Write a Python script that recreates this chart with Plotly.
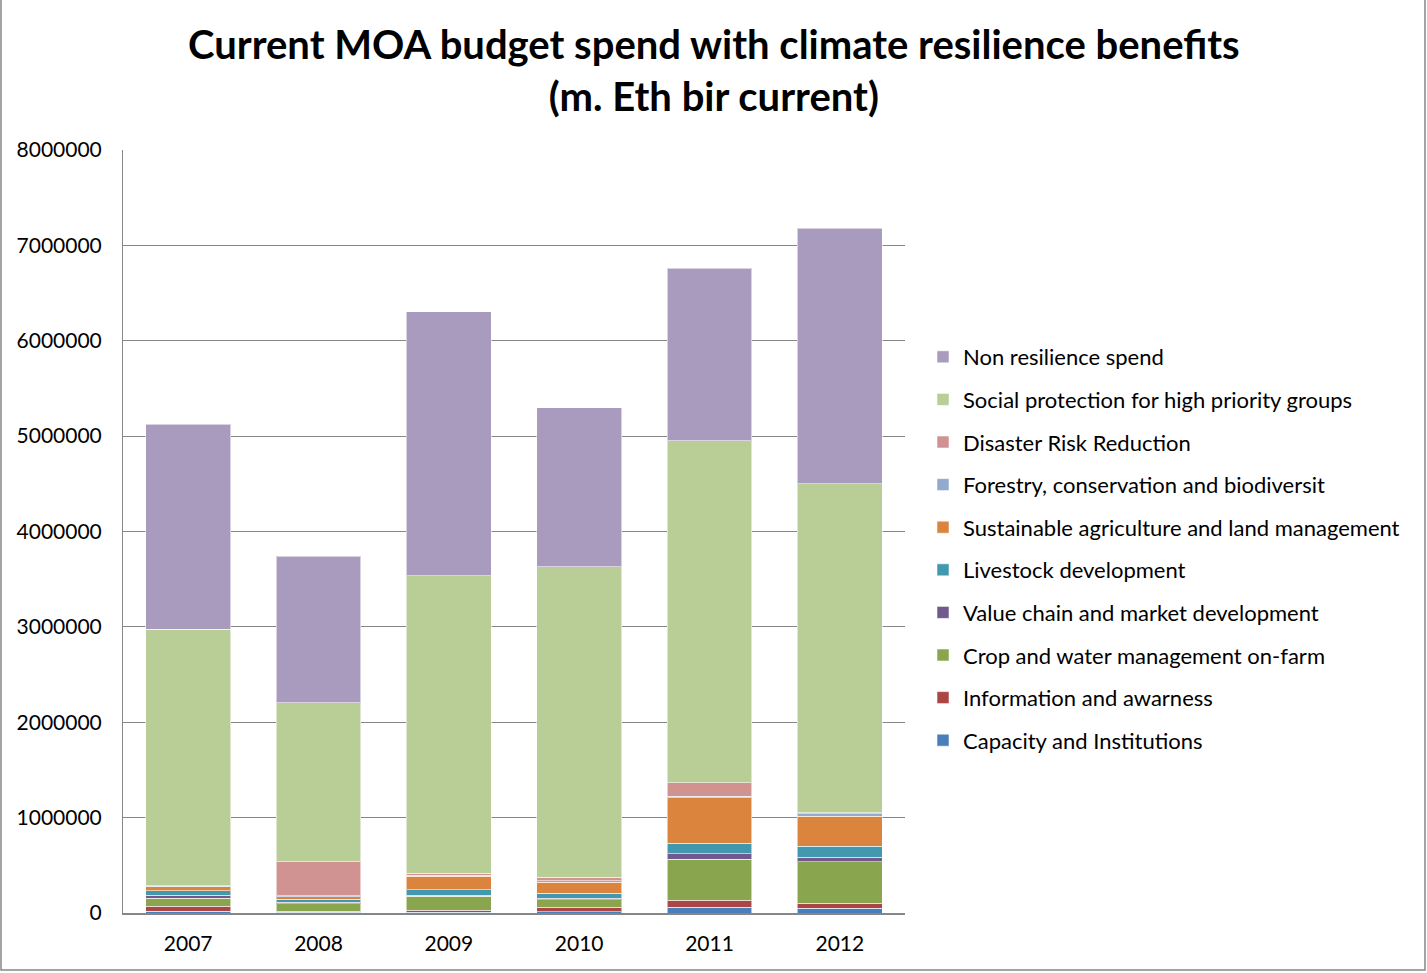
import plotly.graph_objects as go

years = ["2007", "2008", "2009", "2010", "2011", "2012"]

# Spend by category, stacked bottom to top
capacity = [17000, 8000, 7000, 14000, 60000, 52000]
information = [52000, 10000, 24000, 45000, 73000, 52000]
crop_water = [87000, 77000, 143000, 80000, 431000, 433000]
value_chain = [28000, 17000, 14000, 14000, 56000, 49000]
livestock = [49000, 31000, 56000, 56000, 112000, 115000]
sustainable_ag = [42000, 28000, 140000, 112000, 477000, 315000]
forestry = [5000, 10000, 10000, 17000, 17000, 24000]
disaster_risk = [5000, 356000, 21000, 35000, 140000, 10000]
social_protection = [2690000, 1665000, 3120000, 3260000, 3585000, 3450000]
non_resilience = [2150000, 1540000, 2770000, 1665000, 1810000, 2680000]

series = [
    ("Capacity and Institutions", capacity, "#4A7EBB"),
    ("Information and awarness", information, "#AA4643"),
    ("Crop and water management on-farm", crop_water, "#89A54E"),
    ("Value chain and market development", value_chain, "#71588F"),
    ("Livestock development", livestock, "#4198AF"),
    ("Sustainable agriculture and land management", sustainable_ag, "#DB843D"),
    ("Forestry, conservation and biodiversit", forestry, "#93A9CF"),
    ("Disaster Risk Reduction", disaster_risk, "#D19392"),
    ("Social protection for high priority groups", social_protection, "#B9CD96"),
    ("Non resilience spend", non_resilience, "#A99BBD"),
]

FONT = "Lato"

fig = go.Figure()
n = len(series)
for i, (name, vals, color) in enumerate(series):
    fig.add_trace(go.Bar(
        x=years, y=vals, name=name, legendgroup=name,
        legendrank=n - i,
        marker=dict(color=color, line=dict(color="rgba(255,255,255,0.55)", width=1)),
    ))

W, H = 1427, 973
ml, mr, mt, mb = 123, 522, 150, 60
pw, ph = W - ml - mr, H - mt - mb

fig.update_layout(
    width=W, height=H,
    barmode="stack", bargap=0.35,
    paper_bgcolor="white", plot_bgcolor="white",
    margin=dict(l=ml, r=mr, t=mt, b=mb, pad=0),
    font=dict(family=FONT, size=21, color="black"),
    legend=dict(
        x=(923 - ml) / pw, xanchor="left",
        y=(913 - 548.5) / ph, yanchor="middle",
        traceorder="grouped", tracegroupgap=11,
        font=dict(family=FONT, size=22, color="black"),
        bgcolor="rgba(0,0,0,0)",
    ),
    xaxis=dict(
        showgrid=False, showline=True, linecolor="#868686", linewidth=2,
        ticks="", ticklabelstandoff=11, tickfont=dict(size=21),
    ),
    yaxis=dict(
        range=[0, 8000000], dtick=1000000, tickformat="d",
        showgrid=True, gridcolor="#868686", gridwidth=1,
        showline=True, linecolor="#868686", linewidth=1,
        ticks="", ticklabelstandoff=16, tickfont=dict(size=21),
        zeroline=False,
    ),
)

# Two-line chart heading
fig.add_annotation(
    text="Current MOA budget spend with climate resilience benefits<br>(m. Eth bir current)",
    xref="paper", yref="paper",
    x=(713.5 - ml) / pw, y=(H - mb - 70) / ph,
    xanchor="center", yanchor="middle", showarrow=False,
    font=dict(family=FONT, size=40, color="black", weight="bold"),
)

# Outer frame of the chart
fig.add_shape(
    type="rect", xref="paper", yref="paper",
    x0=(1 - ml) / pw, x1=(W - 2 - ml) / pw,
    y0=(H - mb - (H - 3)) / ph, y1=(H - mb + 5) / ph,
    line=dict(color="#868686", width=1.5), fillcolor="rgba(0,0,0,0)",
)

fig.write_html("out.html")
